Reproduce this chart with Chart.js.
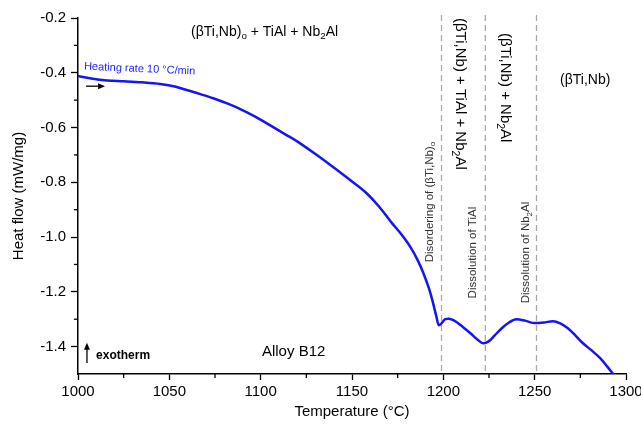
<!DOCTYPE html>
<html>
<head>
<meta charset="utf-8">
<script src="https://cdn.jsdelivr.net/npm/chart.js@4"></script>
<style>
  html, body { margin: 0; padding: 0; background: #fff; }
  #wrap { width: 641px; height: 429px; }
</style>
</head>
<body>
<div id="wrap"><canvas id="chart"></canvas></div>
<script>
// DSC curve, alloy B12
const temps = [1000, 1008, 1016, 1025, 1035, 1045, 1053, 1060, 1067, 1074, 1082, 1090, 1097, 1105,
  1113, 1121, 1130, 1140, 1150, 1158, 1165, 1172, 1177, 1182, 1186, 1189, 1192, 1194, 1196, 1197.5,
  1199, 1201, 1203, 1206, 1211, 1215, 1218, 1222, 1225, 1228, 1232, 1236, 1240, 1245, 1250, 1255,
  1260, 1264, 1268, 1272, 1276, 1281, 1286, 1290, 1293];
const heatFlow = [-0.412, -0.422, -0.428, -0.431, -0.435, -0.441, -0.450, -0.464, -0.478, -0.493, -0.513, -0.536, -0.560, -0.591,
  -0.623, -0.655, -0.697, -0.746, -0.797, -0.840, -0.890, -0.950, -0.990, -1.037, -1.085, -1.130, -1.185, -1.231, -1.285, -1.322,
  -1.315, -1.300, -1.298, -1.305, -1.330, -1.352, -1.370, -1.388, -1.380, -1.360, -1.333, -1.312, -1.300, -1.306, -1.314, -1.312,
  -1.307, -1.315, -1.332, -1.357, -1.385, -1.413, -1.443, -1.475, -1.500];

const xTicks = [1000, 1050, 1100, 1150, 1200, 1250, 1300];
const yTicks = [-1.4, -1.2, -1.0, -0.8, -0.6, -0.4, -0.2];
const xMinor = [1025, 1075, 1125, 1175, 1225, 1275];
const yMinor = [-1.3, -1.1, -0.9, -0.7, -0.5, -0.3];
const transitions = [1199, 1223, 1251];

const FONT = 'Liberation Sans, Arial, sans-serif';

// text notes: parts are [text, subscript?]
const notes = [
  { parts: [['(βTi,Nb)'], ['o', 1], [' + TiAl + Nb'], ['2', 1], ['Al']], t: 1061.9, v: -0.251, size: 14, rot: 0 },
  { parts: [['Heating rate 10 °C/min']], t: 1003.3, v: -0.377, size: 11, rot: 0.045, color: '#1a1aff' },
  { parts: [['(βTi,Nb) + TiAl + Nb'], ['2', 1], ['Al']], t: 1209, v: -0.2, size: 15, rot: Math.PI / 2 },
  { parts: [['(βTi,Nb) + Nb'], ['2', 1], ['Al']], t: 1233.6, v: -0.255, size: 15, rot: Math.PI / 2 },
  { parts: [['(βTi,Nb)']], t: 1263.9, v: -0.427, size: 14, rot: 0 },
  { parts: [['Disordering of (βTi,Nb)'], ['o', 1]], t: 1192.6, v: -1.092, size: 11.5, rot: -Math.PI / 2, color: '#333' },
  { parts: [['Dissolution of TiAl']], t: 1216.2, v: -1.224, size: 11.5, rot: -Math.PI / 2, color: '#333' },
  { parts: [['Dissolution of Nb'], ['2', 1], ['Al']], t: 1245.2, v: -1.242, size: 11.5, rot: -Math.PI / 2, color: '#333' },
  { parts: [['exotherm']], t: 1009.9, v: -1.432, size: 12, rot: 0, bold: true },
  { parts: [['Alloy B12']], t: 1100.7, v: -1.418, size: 15, rot: 0 }
];

function drawRich(ctx, n, px, py) {
  ctx.save();
  ctx.translate(px, py);
  ctx.rotate(n.rot);
  ctx.fillStyle = n.color || '#000';
  ctx.textBaseline = 'middle';
  ctx.textAlign = 'left';
  let cx = 0;
  n.parts.forEach(p => {
    const sub = p[1];
    const sz = sub ? n.size * 0.7 : n.size;
    ctx.font = (n.bold ? 'bold ' : '') + sz + 'px ' + FONT;
    ctx.fillText(p[0], cx, sub ? n.size * 0.3 : 0);
    cx += ctx.measureText(p[0]).width;
  });
  ctx.restore();
}

function arrow(ctx, x1, y1, x2, y2) {
  const a = Math.atan2(y2 - y1, x2 - x1);
  ctx.save();
  ctx.strokeStyle = '#000';
  ctx.fillStyle = '#000';
  ctx.lineWidth = 1.3;
  ctx.beginPath();
  ctx.moveTo(x1, y1);
  ctx.lineTo(x2 - 5 * Math.cos(a), y2 - 5 * Math.sin(a));
  ctx.stroke();
  ctx.beginPath();
  ctx.moveTo(x2, y2);
  ctx.lineTo(x2 - 7 * Math.cos(a) + 3 * Math.sin(a), y2 - 7 * Math.sin(a) - 3 * Math.cos(a));
  ctx.lineTo(x2 - 7 * Math.cos(a) - 3 * Math.sin(a), y2 - 7 * Math.sin(a) + 3 * Math.cos(a));
  ctx.closePath();
  ctx.fill();
  ctx.restore();
}

const extras = {
  id: 'extras',
  beforeDatasetsDraw(chart) {
    const { ctx, scales: { x }, chartArea: a } = chart;
    ctx.save();
    ctx.strokeStyle = '#aaa';
    ctx.lineWidth = 1.3;
    ctx.setLineDash([6, 4]);
    transitions.forEach(t => {
      const px = x.getPixelForValue(t);
      ctx.beginPath();
      ctx.moveTo(px, a.top - 3);
      ctx.lineTo(px, a.bottom);
      ctx.stroke();
    });
    ctx.restore();
  },
  afterDraw(chart) {
    const { ctx, scales: { x, y }, chartArea: a } = chart;
    // minor ticks
    ctx.save();
    ctx.strokeStyle = '#000';
    ctx.lineWidth = 1.3;
    xMinor.forEach(t => {
      const px = x.getPixelForValue(t);
      ctx.beginPath();
      ctx.moveTo(px, a.bottom);
      ctx.lineTo(px, a.bottom + 4);
      ctx.stroke();
    });
    yMinor.forEach(v => {
      const py = y.getPixelForValue(v);
      ctx.beginPath();
      ctx.moveTo(a.left - 4, py);
      ctx.lineTo(a.left, py);
      ctx.stroke();
    });
    ctx.restore();
    notes.forEach(n => drawRich(ctx, n, x.getPixelForValue(n.t), y.getPixelForValue(n.v)));
    arrow(ctx, x.getPixelForValue(1004.4), y.getPixelForValue(-0.449), x.getPixelForValue(1014.8), y.getPixelForValue(-0.449));
    arrow(ctx, x.getPixelForValue(1004.9), y.getPixelForValue(-1.46), x.getPixelForValue(1004.9), y.getPixelForValue(-1.386));
  }
};

const ctx = document.getElementById('chart').getContext('2d');
new Chart(ctx, {
  type: 'line',
  data: {
    datasets: [{
      data: temps.map((t, i) => ({ x: t, y: heatFlow[i] })),
      borderColor: '#1414f5',
      borderWidth: 2.5,
      pointRadius: 0,
      fill: false,
      cubicInterpolationMode: 'monotone'
    }]
  },
  options: {
    responsive: true,
    maintainAspectRatio: false,
    animation: false,
    layout: { padding: { top: 18, right: 0, left: 0, bottom: 0 } },
    plugins: { legend: { display: false }, tooltip: { enabled: false } },
    scales: {
      x: {
        type: 'linear',
        min: 1000,
        max: 1300,
        afterBuildTicks: s => { s.ticks = xTicks.map(v => ({ value: v })); },
        afterFit: s => { s.height = 55; s.paddingRight = 15; },
        ticks: { color: '#000', font: { family: FONT, size: 15 }, padding: 3, maxRotation: 0, callback: v => String(v) },
        grid: { drawOnChartArea: false, tickLength: 6, tickColor: '#000', tickWidth: 1.3 },
        border: { color: '#000', width: 1.5 },
        title: { display: true, text: 'Temperature (°C)', color: '#000', font: { family: FONT, size: 15 }, padding: { top: 0, bottom: 8 } }
      },
      y: {
        min: -1.5,
        max: -0.2,
        afterBuildTicks: s => { s.ticks = yTicks.map(v => ({ value: v })); },
        afterFit: s => { s.width = 78; },
        ticks: { color: '#000', font: { family: FONT, size: 15 }, padding: 5, callback: v => v.toFixed(1) },
        grid: { drawOnChartArea: false, tickLength: 7, tickColor: '#000', tickWidth: 1.3 },
        border: { color: '#000', width: 1.5 },
        title: { display: true, text: 'Heat flow (mW/mg)', color: '#000', font: { family: FONT, size: 15 }, padding: { top: 10, bottom: 0 } }
      }
    }
  },
  plugins: [extras]
});
</script>
</body>
</html>
